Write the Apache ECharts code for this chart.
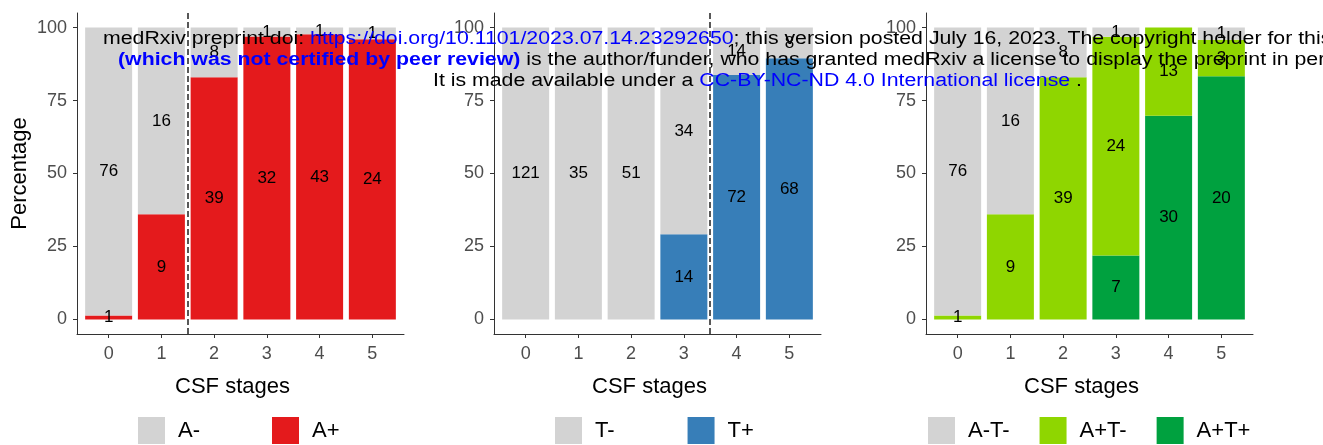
<!DOCTYPE html>
<html>
<head>
<meta charset="utf-8">
<script src="https://cdn.jsdelivr.net/npm/echarts@6/dist/echarts.min.js"></script>
<style>
  html, body { margin: 0; padding: 0; background: #fff; }
  #main { width: 1323px; height: 445px; }
</style>
</head>
<body>
<div id="main"></div>
<script>
var stages = [0, 1, 2, 3, 4, 5]
var yTicks = [0, 25, 50, 75, 100]

// counts per CSF stage
var aNeg = [76, 16, 8, 1, 1, 1]
var aPos = [1, 9, 39, 32, 43, 24]
var tNeg = [121, 35, 51, 34, 14, 8]
var tPos = [0, 0, 0, 14, 72, 68]
var atNegNeg = [76, 16, 8, 1, 0, 1]
var atPosNeg = [1, 9, 39, 24, 13, 3]
var atPosPos = [0, 0, 0, 7, 30, 20]

var grey = '#d3d3d3'
var font = 'Liberation Sans, Arial, Helvetica, sans-serif'

var chartDom = document.getElementById('main')
var myChart = echarts.init(chartDom)
var option

// [percent, stage] so that the percent is the stacked dimension
function pct(parts, k) {
  return stages.map(function (s, i) {
    var tot = 0
    parts.forEach(function (p) { tot += p[i] })
    return [tot ? parts[k][i] / tot * 100 : 0, s]
  })
}

// bottom-to-top order for stacking
var panels = [
  { names: ['A+', 'A-'], counts: [aPos, aNeg], colors: ['#e41a1c', grey], cut: 1.5 },
  { names: ['T+', 'T-'], counts: [tPos, tNeg], colors: ['#377eb8', grey], cut: 3.5 },
  { names: ['A+T+', 'A+T-', 'A-T-'], counts: [atPosPos, atPosNeg, atNegNeg], colors: ['#00a13f', '#8fd600', grey], cut: null }
]
var gridLeft = [77, 494, 926]
var legendLeft = [138, 555, 928]
var legendGap = [72, 73, 30]

var grids = [], xAxes = [], yAxes = [], series = [], legends = []

panels.forEach(function (p, g) {
  grids.push({ left: gridLeft[g], top: 13, width: 327, height: 321 })
  xAxes.push({
    type: 'value', gridIndex: g, min: -0.6, max: 5.6,
    name: 'CSF stages', nameLocation: 'middle', nameGap: 42,
    nameTextStyle: { fontSize: 22, color: '#000', fontFamily: font, padding: [0, 16, 0, 0] },
    axisLine: { show: true, onZero: false, lineStyle: { color: '#333', width: 1 } },
    axisTick: { show: true, length: 4, customValues: stages, lineStyle: { color: '#333' } },
    axisLabel: { customValues: stages, fontSize: 18, color: '#4d4d4d', margin: 11, fontFamily: font },
    splitLine: { show: false }
  })
  yAxes.push({
    type: 'value', gridIndex: g, min: -5, max: 105,
    name: g === 0 ? 'Percentage' : '', nameLocation: 'middle', nameGap: 46,
    nameTextStyle: { fontSize: 22, color: '#000', fontFamily: font },
    axisLine: { show: true, onZero: false, lineStyle: { color: '#333', width: 1 } },
    axisTick: { show: true, length: 4, customValues: yTicks, lineStyle: { color: '#333' } },
    axisLabel: { customValues: yTicks, fontSize: 18, color: '#4d4d4d', margin: 10, fontFamily: font },
    splitLine: { show: false }
  })
  p.names.forEach(function (name, k) {
    var s = {
      name: name, type: 'bar', xAxisIndex: g, yAxisIndex: g,
      stack: 'p' + g, barWidth: 47,
      encode: { x: 1, y: 0 },
      data: pct(p.counts, k),
      itemStyle: { color: p.colors[k] },
      label: {
        show: true, position: 'inside', fontSize: 17, color: '#000', fontFamily: font,
        formatter: (function (c) {
          return function (d) { return c[d.dataIndex] ? String(c[d.dataIndex]) : '' }
        })(p.counts[k])
      }
    }
    if (k === p.names.length - 1 && p.cut !== null) {
      s.markLine = {
        silent: true, symbol: 'none', label: { show: false },
        lineStyle: { color: '#222', type: [6, 3], width: 1.5 },
        data: [{ xAxis: p.cut }]
      }
    }
    series.push(s)
  })
  legends.push({
    left: legendLeft[g], top: 417, orient: 'horizontal', padding: 0,
    data: p.names.slice().reverse(), selectedMode: false,
    icon: 'rect', itemWidth: 27, itemHeight: 27, itemGap: legendGap[g],
    textStyle: { fontSize: 22, color: '#000', fontFamily: font, padding: [0, 0, 0, 8] }
  })
})

// preprint banner stamped over the figure (wide type)
var blue = '#0000ff'
var hs = 18
var hx = 1.183
option = {
  animation: false,
  grid: grids,
  xAxis: xAxes,
  yAxis: yAxes,
  legend: legends,
  series: series,
  graphic: [
    {
      type: 'text', x: 103, y: 39, z: 100, scaleX: hx,
      style: {
        text: '{k|medRxiv preprint doi: }{b|https://doi.org/10.1101/2023.07.14.23292650}{k|; this version posted July 16, 2023. The copyright holder for this}',
        verticalAlign: 'middle',
        rich: {
          k: { fontSize: hs, fill: '#000', fontFamily: font },
          b: { fontSize: hs, fill: blue, fontFamily: font }
        }
      }
    },
    {
      type: 'text', x: 118, y: 60, z: 100, scaleX: hx,
      style: {
        text: '{bb|(which was not certified by peer review)}{k| is the author/funder, who has granted medRxiv a license to display the preprint in perpetuity.}',
        verticalAlign: 'middle',
        rich: {
          k: { fontSize: hs, fill: '#000', fontFamily: font },
          bb: { fontSize: hs, fill: blue, fontWeight: 'bold', fontFamily: font }
        }
      }
    },
    {
      type: 'text', x: 433, y: 81, z: 100, scaleX: hx,
      style: {
        text: '{k|It is made available under a }{b|CC-BY-NC-ND 4.0 International license}{k| .}',
        verticalAlign: 'middle',
        rich: {
          k: { fontSize: hs, fill: '#000', fontFamily: font },
          b: { fontSize: hs, fill: blue, fontFamily: font }
        }
      }
    }
  ]
}

option && myChart.setOption(option)
</script>
</body>
</html>
